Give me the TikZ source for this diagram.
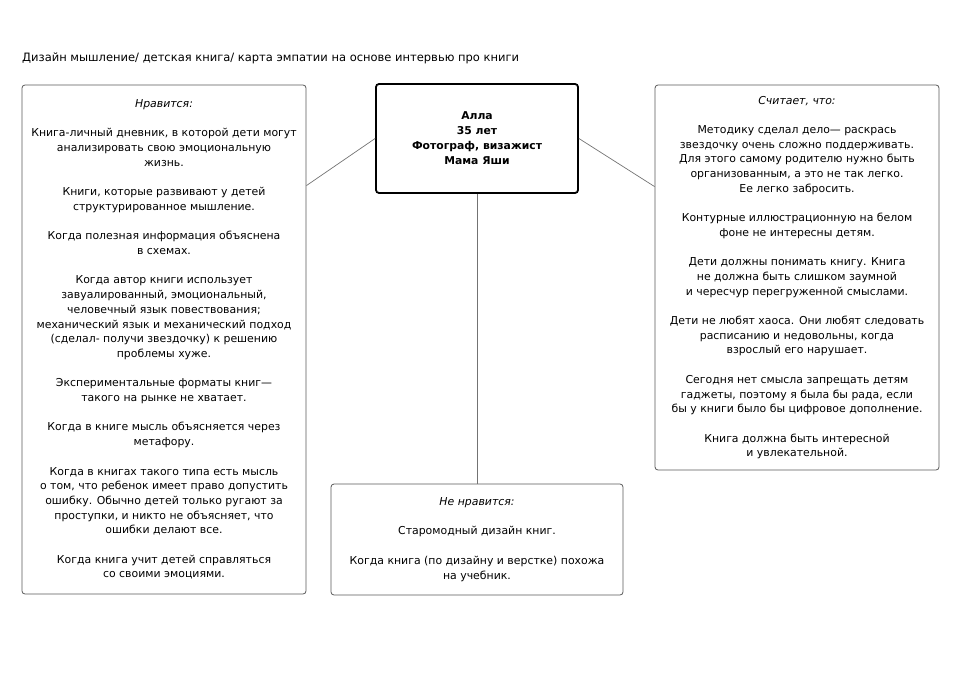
\documentclass[tikz,border=0pt]{standalone}
\usepackage{fontspec}
\setmainfont{DejaVu Sans}
\begin{document}
\begin{tikzpicture}[x=1pt,y=-1pt,
  sidebox/.style={draw=black!65, line width=0.8pt, rounded corners=3pt, inner sep=0pt, align=center, font=\fontsize{10.9}{14.7}\selectfont},
  personbox/.style={draw=black, line width=1.8pt, rounded corners=3pt, inner sep=0pt, align=center, font=\fontsize{10.8}{15}\selectfont\bfseries},
  link/.style={draw=black!55, line width=0.7pt}]
\useasboundingbox (0,0) rectangle (960,680);
\node[anchor=base west, inner sep=0pt, font=\fontsize{11.5}{13}\selectfont] (title) at (22,61) {Дизайн мышление/ детская книга/ карта эмпатии на основе интервью про книги};
\node[personbox, minimum width=202pt, minimum height=109pt] (cbox) at (477,138.5) {Алла\\35 лет\\Фотограф, визажист\\Мама Яши};
\node[sidebox, minimum width=284pt, minimum height=509pt] (lbox) at (164,339.5) {\textit{Нравится:}\\[14.7pt]
Книга-личный дневник, в которой дети могут\\анализировать свою эмоциональную\\жизнь.\\[14.7pt]
Книги, которые развивают у детей\\структурированное мышление.\\[14.7pt]
Когда полезная информация объяснена\\в схемах.\\[14.7pt]
Когда автор книги использует\\завуалированный, эмоциональный,\\человечный язык повествования;\\механический язык и механический подход\\(сделал- получи звездочку) к решению\\проблемы хуже.\\[14.7pt]
Экспериментальные форматы книг—\\такого на рынке не хватает.\\[14.7pt]
Когда в книге мысль объясняется через\\метафору.\\[14.7pt]
Когда в книгах такого типа есть мысль\\о том, что ребенок имеет право допустить\\ошибку. Обычно детей только ругают за\\проступки, и никто не объясняет, что\\ошибки делают все.\\[14.7pt]
Когда книга учит детей справляться\\со своими эмоциями.};
\node[sidebox, minimum width=284pt, minimum height=385pt] (rbox) at (797,277.5) {\textit{Считает, что:}\\[14.7pt]
Методику сделал дело— раскрась\\звездочку очень сложно поддерживать.\\Для этого самому родителю нужно быть\\организованным, а это не так легко.\\Ее легко забросить.\\[14.7pt]
Контурные иллюстрационную на белом\\фоне не интересны детям.\\[14.7pt]
Дети должны понимать книгу. Книга\\не должна быть слишком заумной\\и чересчур перегруженной смыслами.\\[14.7pt]
Дети не любят хаоса. Они любят следовать\\расписанию и недовольны, когда\\взрослый его нарушает.\\[14.7pt]
Сегодня нет смысла запрещать детям\\гаджеты, поэтому я была бы рада, если\\бы у книги было бы цифровое дополнение.\\[14.7pt]
Книга должна быть интересной\\и увлекательной.};
\node[sidebox, minimum width=292pt, minimum height=111pt] (bbox) at (477,539.5) {\textit{Не нравится:}\\[14.7pt]
Старомодный дизайн книг.\\[14.7pt]
Когда книга (по дизайну и верстке) похожа\\на учебник.};
\draw[link] ([yshift=-101pt]lbox.north east) -- (cbox.west);
\draw[link] (cbox.east) -- ([yshift=-102pt]rbox.north west);
\draw[link] (cbox.south) -- (bbox.north);
\end{tikzpicture}
\end{document}
